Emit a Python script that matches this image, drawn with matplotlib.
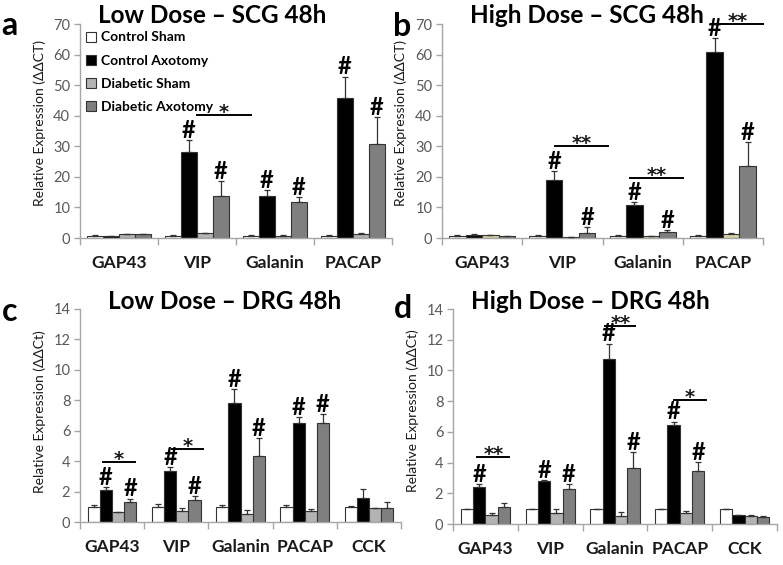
import matplotlib
matplotlib.use('Agg')
import matplotlib.pyplot as plt
import numpy as np

plt.rcParams['font.family'] = ['Lato', 'DejaVu Sans']

series = ['Control Sham', 'Control Axotomy', 'Diabetic Sham', 'Diabetic Axotomy']

# ---------- Panel a: Low Dose - SCG 48h ----------
a_cats = ['GAP43', 'VIP', 'Galanin', 'PACAP']
a_cs = [0.8, 0.8, 0.8, 0.8]
a_ca = [0.7, 28.2, 13.8, 45.7]
a_ds = [1.2, 1.5, 0.8, 1.3]
a_da = [1.2, 13.7, 11.8, 30.7]
a_cs_err = [0.2, 0.2, 0.2, 0.2]
a_ca_err = [0.1, 3.8, 1.8, 7.1]
a_ds_err = [0.1, 0.2, 0.1, 0.3]
a_da_err = [0.1, 4.9, 1.6, 9.0]
a_hash = [(1, 1), (1, 3), (2, 1), (2, 3), (3, 1), (3, 3)]
a_sig = [(1.0, 1.69, 40.3, '*')]

# ---------- Panel b: High Dose - SCG 48h ----------
b_cats = ['GAP43', 'VIP', 'Galanin', 'PACAP']
b_cs = [0.8, 0.8, 0.8, 0.8]
b_ca = [1.0, 19.1, 10.7, 60.8]
b_ds = [1.0, 0.3, 0.5, 1.3]
b_da = [0.5, 1.75, 2.0, 23.6]
b_cs_err = [0.1, 0.1, 0.1, 0.1]
b_ca_err = [0.3, 2.7, 1.1, 4.6]
b_ds_err = [0.1, 0.1, 0.1, 0.3]
b_da_err = [0.1, 1.8, 0.7, 7.9]
b_hash = [(1, 1), (1, 3), (2, 1), (2, 3), (3, 1), (3, 3)]
b_sig = [(0.91, 1.57, 30.0, '**'), (1.84, 2.50, 19.5, '**'), (2.86, 3.50, 70.0, '**')]

# ---------- Panel c: Low Dose - DRG 48h ----------
c_cats = ['GAP43', 'VIP', 'Galanin', 'PACAP', 'CCK']
c_cs = [1.0, 1.0, 1.0, 1.0, 1.0]
c_ca = [2.09, 3.36, 7.85, 6.48, 1.6]
c_ds = [0.64, 0.70, 0.55, 0.70, 0.9]
c_da = [1.32, 1.43, 4.37, 6.48, 0.95]
c_cs_err = [0.15, 0.2, 0.15, 0.1, 0.03]
c_ca_err = [0.2, 0.25, 0.9, 0.4, 0.55]
c_ds_err = [0.05, 0.25, 0.22, 0.13, 0.05]
c_da_err = [0.22, 0.27, 1.17, 0.6, 0.37]
c_hash = [(0, 1), (0, 3), (1, 1), (1, 3), (2, 1), (2, 3), (3, 1), (3, 3)]
c_sig = [(-0.14, 0.36, 3.96, '*'), (0.93, 1.42, 4.8, '*')]

# ---------- Panel d: High Dose - DRG 48h ----------
d_cats = ['GAP43', 'VIP', 'Galanin', 'PACAP', 'CCK']
d_cs = [1.0, 1.0, 1.0, 1.0, 1.0]
d_ca = [2.43, 2.82, 10.75, 6.45, 0.58]
d_ds = [0.58, 0.69, 0.54, 0.69, 0.54]
d_da = [1.08, 2.28, 3.63, 3.44, 0.47]
d_cs_err = [0.0, 0.0, 0.0, 0.0, 0.0]
d_ca_err = [0.17, 0.05, 1.0, 0.22, 0.03]
d_ds_err = [0.13, 0.28, 0.26, 0.13, 0.03]
d_da_err = [0.27, 0.32, 1.04, 0.62, 0.03]
d_hash = [(0, 1), (1, 1), (1, 3), (2, 1), (2, 3), (3, 1), (3, 3)]
d_sig = [(-0.13, 0.36, 4.37, '**'), (1.85, 2.31, 12.9, '**'), (2.91, 3.40, 8.09, '*')]

col_gray = ['white', 'black', '#b3b3b3', '#7f7f7f']
col_b = ['white', 'black', '#d9d2a6', '#7f7f7f']

W, H = 783, 565
fig = plt.figure(figsize=(W / 100, H / 100), dpi=100)


def ax_at(l, t, r, b):
    return fig.add_axes([l / W, 1 - b / H, (r - l) / W, (b - t) / H])


def draw(ax, cats, vals, errs, colors, ymax, ystep, width, hashes, sigs, ylabel, ylab_y):
    n = len(cats)
    x = np.arange(n)
    offs = (np.arange(4) - 1.5) * width
    handles = []
    for i in range(4):
        h = ax.bar(x + offs[i], vals[i], width, color=colors[i], edgecolor='#333333',
                   linewidth=0.8, label=series[i], zorder=2)
        handles.append(h)
        ax.errorbar(x + offs[i], vals[i], yerr=[np.zeros(n), errs[i]], fmt='none',
                    ecolor='#333333', elinewidth=0.9, capsize=2.2, capthick=0.9, zorder=3)
    for (c, s) in hashes:
        top = vals[s][c] + errs[s][c]
        ax.annotate('#', xy=(c + offs[s], top), xytext=(0, 1.5), textcoords='offset points',
                    ha='center', va='baseline', fontsize=17, fontweight='bold', color='black',
                    annotation_clip=False)
    for (x0, x1, y, txt) in sigs:
        ax.plot([x0, x1], [y, y], color='black', lw=1.4, clip_on=False, zorder=4)
        k = len(txt)
        for j in range(k):
            dx = (j - (k - 1) / 2) * 6.5
            ax.annotate('*', xy=((x0 + x1) / 2, y), xytext=(dx, -2.0),
                        textcoords='offset points', ha='center', va='baseline',
                        fontsize=14, fontweight='bold', color='#1a1a1a',
                        family='DejaVu Sans', annotation_clip=False)
    ax.set_xlim(-0.5, n - 0.5)
    ax.set_ylim(0, ymax)
    ax.set_yticks(np.arange(0, ymax + 0.01, ystep))
    ax.set_xticks(x)
    ax.set_xticklabels(cats, fontsize=12.5, fontweight='bold', color='#1a1a1a')
    ax.set_xticks(np.arange(n + 1) - 0.5, minor=True)
    ax.tick_params(axis='x', which='major', length=0, pad=12)
    ax.tick_params(axis='x', which='minor', length=5, color='#a6a6a6', width=1)
    ax.tick_params(axis='y', length=4, color='#a6a6a6', width=1, labelsize=10.5,
                   labelcolor='#595959', pad=3)
    for s in ['top', 'right']:
        ax.spines[s].set_visible(False)
    for s in ['left', 'bottom']:
        ax.spines[s].set_color('#a6a6a6')
        ax.spines[s].set_linewidth(1)
    ax.text(-0.128 if n == 4 else -0.125, ylab_y, ylabel, transform=ax.transAxes, rotation=90,
            ha='center', va='center', fontsize=10, color='#1a1a1a')
    return handles


ax_a = ax_at(80, 24, 392, 238)
ax_b = ax_at(442, 24, 763, 238)
ax_c = ax_at(80, 309, 401, 522)
ax_d = ax_at(453, 309, 777, 524)

ha = draw(ax_a, a_cats, [a_cs, a_ca, a_ds, a_da], [a_cs_err, a_ca_err, a_ds_err, a_da_err],
          col_gray, 70, 10, 0.205, a_hash, a_sig, 'Relative Expression (ΔΔCT)', 0.537)
draw(ax_b, b_cats, [b_cs, b_ca, b_ds, b_da], [b_cs_err, b_ca_err, b_ds_err, b_da_err],
     col_b, 70, 10, 0.205, b_hash, b_sig, 'Relative Expression (ΔΔCT)', 0.537)
draw(ax_c, c_cats, [c_cs, c_ca, c_ds, c_da], [c_cs_err, c_ca_err, c_ds_err, c_da_err],
     col_gray, 14, 2, 0.19, c_hash, c_sig, 'Relative Expression (ΔΔCt)', 0.52)
draw(ax_d, d_cats, [d_cs, d_ca, d_ds, d_da], [d_cs_err, d_ca_err, d_ds_err, d_da_err],
     col_gray, 14, 2, 0.19, d_hash, d_sig, 'Relative Expression (ΔΔCt)', 0.526)

ax_a.legend(handles=ha, labels=series, loc='upper left', bbox_to_anchor=(0.02, 0.965),
            frameon=False, borderaxespad=0, borderpad=0, handlelength=0.72, handleheight=0.72,
            handletextpad=0.35, labelspacing=0.8, prop={'weight': 'bold', 'size': 10})

titles = [('Low Dose – SCG 48h', 212, 23), ('High Dose – SCG 48h', 587, 23),
          ('Low Dose – DRG 48h', 225, 309), ('High Dose – DRG 48h', 590, 309)]
for t, xc, yb in titles:
    fig.text(xc / W, 1 - yb / H, t, ha='center', va='baseline', fontsize=17.5,
             fontweight='bold', color='black')

letters = [('a', 1, 35), ('b', 393, 36), ('c', 2, 321), ('d', 394, 318)]
for t, xl, yb in letters:
    fig.text(xl / W, 1 - yb / H, t, ha='left', va='baseline', fontsize=23,
             fontweight='bold', color='black')

fig.savefig('out.png', dpi=100)
